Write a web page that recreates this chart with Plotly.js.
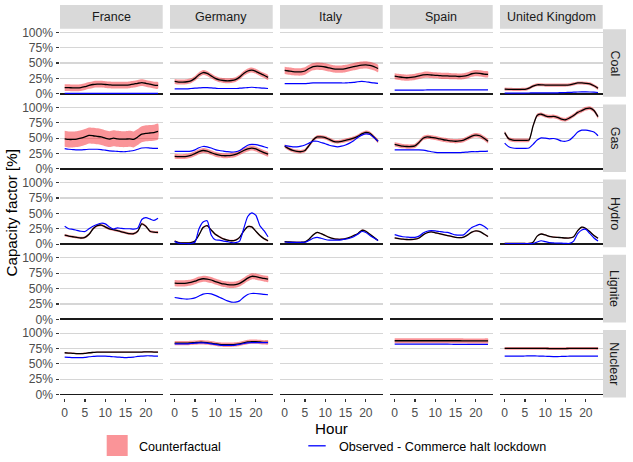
<!DOCTYPE html>
<html>
<head>
<meta charset="utf-8">
<script src="https://cdn.plot.ly/plotly-3.0.1.min.js"></script>
<style>html,body{margin:0;padding:0;background:#fff}</style>
</head>
<body>
<div id="chart" style="width:633px;height:462px"></div>
<script>
// hours of the day and facet labels
const hours = [0,1,2,3,4,5,6,7,8,9,10,11,12,13,14,15,16,17,18,19,20,21,22,23];
const hourTicks = [0,5,10,15,20];
const pctTicks = [0,0.25,0.5,0.75,1];
const pctLabels = ['0%','25%','50%','75%','100%'];
const countries = ['France','Germany','Italy','Spain','United Kingdom'];
const sources = ['Coal','Gas','Hydro','Lignite','Nuclear'];

// Coal
const coalFranceCf = [0.10,0.10,0.095,0.095,0.10,0.115,0.135,0.15,0.155,0.155,0.15,0.145,0.14,0.14,0.14,0.14,0.145,0.155,0.17,0.18,0.17,0.155,0.14,0.135];
const coalFranceObs = [0.005,0.005,0.005,0.005,0.005,0.005,0.005,0.005,0.005,0.005,0.005,0.005,0.005,0.005,0.005,0.005,0.005,0.005,0.005,0.005,0.005,0.005,0.005,0.005];
const coalGermanyCf = [0.20,0.19,0.19,0.195,0.21,0.25,0.31,0.345,0.33,0.29,0.25,0.225,0.215,0.21,0.215,0.23,0.27,0.33,0.37,0.385,0.365,0.33,0.30,0.265];
const coalGermanyObs = [0.08,0.08,0.08,0.08,0.085,0.09,0.095,0.10,0.10,0.095,0.09,0.085,0.085,0.085,0.085,0.085,0.09,0.095,0.10,0.105,0.10,0.095,0.09,0.085];
const coalItalyCf = [0.38,0.37,0.36,0.355,0.355,0.37,0.41,0.44,0.45,0.445,0.435,0.42,0.405,0.40,0.40,0.41,0.425,0.44,0.455,0.465,0.47,0.46,0.44,0.41];
const coalItalyObs = [0.165,0.165,0.165,0.165,0.165,0.165,0.17,0.175,0.175,0.175,0.175,0.175,0.175,0.175,0.175,0.175,0.18,0.185,0.195,0.20,0.195,0.185,0.175,0.17];
const coalSpainCf = [0.285,0.275,0.265,0.26,0.265,0.275,0.29,0.305,0.31,0.305,0.30,0.295,0.29,0.29,0.285,0.285,0.28,0.285,0.30,0.325,0.335,0.33,0.32,0.315];
const coalSpainObs = [0.06,0.06,0.06,0.06,0.06,0.06,0.06,0.06,0.062,0.062,0.062,0.062,0.062,0.062,0.062,0.062,0.062,0.062,0.062,0.062,0.062,0.062,0.062,0.062];
const coalUkCf = [0.075,0.072,0.07,0.07,0.07,0.072,0.09,0.125,0.145,0.145,0.14,0.14,0.14,0.14,0.14,0.14,0.145,0.16,0.175,0.175,0.17,0.16,0.13,0.09];
const coalUkObs = [0.01,0.01,0.01,0.01,0.01,0.01,0.012,0.015,0.015,0.015,0.015,0.015,0.015,0.015,0.018,0.02,0.022,0.025,0.028,0.03,0.03,0.028,0.025,0.02];

// Gas
const gasFranceCf = [0.49,0.48,0.48,0.485,0.50,0.52,0.545,0.54,0.53,0.52,0.50,0.485,0.50,0.49,0.485,0.485,0.49,0.48,0.52,0.565,0.58,0.585,0.59,0.61];
const gasFranceObs = [0.33,0.32,0.315,0.31,0.31,0.315,0.32,0.32,0.32,0.315,0.305,0.295,0.29,0.285,0.28,0.28,0.29,0.30,0.32,0.34,0.345,0.34,0.335,0.335];
const gasGermanyCf = [0.205,0.20,0.20,0.205,0.22,0.25,0.28,0.30,0.29,0.265,0.24,0.225,0.215,0.215,0.22,0.235,0.265,0.30,0.325,0.34,0.325,0.295,0.265,0.24];
const gasGermanyObs = [0.285,0.285,0.285,0.285,0.29,0.31,0.345,0.365,0.36,0.34,0.315,0.30,0.29,0.28,0.275,0.28,0.30,0.345,0.385,0.40,0.395,0.38,0.36,0.34];
const gasItalyCf = [0.37,0.33,0.30,0.285,0.28,0.30,0.38,0.47,0.52,0.52,0.51,0.48,0.45,0.44,0.45,0.465,0.48,0.50,0.53,0.57,0.595,0.58,0.52,0.45];
const gasItalyObs = [0.38,0.37,0.36,0.36,0.37,0.39,0.42,0.45,0.45,0.43,0.41,0.385,0.37,0.36,0.37,0.39,0.42,0.46,0.51,0.55,0.57,0.56,0.51,0.45];
const gasSpainCf = [0.40,0.385,0.37,0.365,0.365,0.375,0.43,0.50,0.52,0.515,0.505,0.49,0.475,0.465,0.455,0.45,0.455,0.47,0.50,0.535,0.55,0.54,0.50,0.45];
const gasSpainObs = [0.31,0.31,0.31,0.31,0.31,0.31,0.31,0.305,0.295,0.28,0.27,0.265,0.265,0.265,0.265,0.265,0.265,0.27,0.275,0.28,0.28,0.285,0.285,0.29];
const gasUkCf = [0.59,0.49,0.47,0.465,0.465,0.465,0.47,0.70,0.87,0.89,0.865,0.85,0.855,0.84,0.81,0.80,0.83,0.87,0.92,0.95,0.98,0.99,0.95,0.85];
const gasUkObs = [0.42,0.36,0.34,0.335,0.335,0.335,0.34,0.40,0.47,0.505,0.50,0.49,0.495,0.48,0.455,0.45,0.47,0.53,0.60,0.63,0.63,0.62,0.60,0.54];

// Hydro
const hydroFranceCf = [0.145,0.13,0.12,0.11,0.10,0.11,0.16,0.25,0.30,0.31,0.28,0.25,0.235,0.22,0.20,0.185,0.17,0.17,0.21,0.33,0.29,0.21,0.195,0.19];
const hydroFranceObs = [0.29,0.25,0.24,0.225,0.21,0.205,0.25,0.29,0.32,0.34,0.33,0.28,0.245,0.265,0.255,0.25,0.25,0.245,0.26,0.40,0.43,0.41,0.385,0.42];
const hydroGermanyCf = [0.05,0.025,0.02,0.02,0.025,0.05,0.15,0.27,0.30,0.23,0.16,0.12,0.085,0.065,0.055,0.065,0.11,0.21,0.285,0.28,0.21,0.14,0.09,0.055];
const hydroGermanyObs = [0.04,0.015,0.01,0.01,0.01,0.03,0.25,0.36,0.38,0.15,0.07,0.065,0.05,0.04,0.025,0.025,0.05,0.25,0.45,0.51,0.47,0.30,0.22,0.12];
const hydroItalyCf = [0.04,0.035,0.032,0.03,0.03,0.035,0.08,0.15,0.19,0.17,0.14,0.11,0.09,0.08,0.08,0.09,0.11,0.14,0.17,0.225,0.21,0.16,0.11,0.06];
const hydroItalyObs = [0.035,0.03,0.03,0.03,0.03,0.03,0.06,0.095,0.11,0.095,0.075,0.065,0.065,0.065,0.07,0.08,0.095,0.12,0.16,0.205,0.19,0.14,0.10,0.06];
const hydroSpainCf = [0.10,0.09,0.08,0.075,0.075,0.08,0.10,0.15,0.185,0.2,0.185,0.17,0.155,0.14,0.125,0.11,0.105,0.115,0.15,0.195,0.215,0.205,0.165,0.125];
const hydroSpainObs = [0.155,0.135,0.12,0.115,0.11,0.11,0.13,0.18,0.21,0.22,0.215,0.205,0.195,0.19,0.17,0.15,0.145,0.15,0.21,0.27,0.30,0.32,0.29,0.24];
const hydroUkCf = [0.01,0.01,0.01,0.01,0.01,0.01,0.01,0.03,0.13,0.165,0.15,0.125,0.115,0.11,0.105,0.10,0.10,0.12,0.22,0.275,0.255,0.20,0.14,0.095];
const hydroUkObs = [0.01,0.01,0.01,0.01,0.01,0.01,0.01,0.01,0.035,0.055,0.04,0.025,0.02,0.015,0.015,0.012,0.012,0.05,0.17,0.23,0.24,0.17,0.10,0.05];

// Lignite (Germany only)
const ligniteGermanyCf = [0.59,0.585,0.585,0.59,0.60,0.62,0.645,0.66,0.655,0.64,0.615,0.595,0.575,0.565,0.56,0.565,0.585,0.625,0.67,0.70,0.695,0.68,0.665,0.655];
const ligniteGermanyObs = [0.355,0.345,0.335,0.33,0.335,0.35,0.38,0.41,0.42,0.415,0.39,0.36,0.33,0.30,0.28,0.28,0.30,0.36,0.405,0.42,0.42,0.415,0.405,0.40];

// Nuclear (no Italy)
const nuclearFranceCf = [0.68,0.675,0.67,0.665,0.665,0.67,0.68,0.685,0.69,0.69,0.69,0.69,0.69,0.69,0.69,0.69,0.69,0.69,0.69,0.69,0.695,0.695,0.69,0.69];
const nuclearFranceObs = [0.61,0.605,0.60,0.60,0.60,0.605,0.615,0.62,0.625,0.625,0.625,0.62,0.615,0.61,0.605,0.60,0.605,0.61,0.62,0.625,0.63,0.63,0.625,0.625];
const nuclearGermanyCf = [0.835,0.835,0.835,0.835,0.84,0.845,0.85,0.85,0.845,0.835,0.825,0.815,0.81,0.81,0.81,0.815,0.825,0.84,0.855,0.86,0.86,0.855,0.85,0.85];
const nuclearGermanyObs = [0.825,0.825,0.825,0.825,0.83,0.835,0.84,0.84,0.835,0.825,0.815,0.805,0.80,0.80,0.80,0.805,0.815,0.83,0.84,0.845,0.845,0.845,0.845,0.845];
const nuclearSpainCf = [0.875,0.875,0.875,0.875,0.875,0.875,0.875,0.875,0.875,0.875,0.875,0.875,0.875,0.875,0.875,0.875,0.875,0.873,0.872,0.872,0.872,0.872,0.872,0.872];
const nuclearSpainObs = [0.82,0.82,0.82,0.82,0.82,0.82,0.82,0.82,0.82,0.82,0.82,0.82,0.82,0.82,0.818,0.816,0.815,0.815,0.815,0.815,0.815,0.815,0.815,0.815];
const nuclearUkCf = [0.75,0.75,0.75,0.75,0.75,0.75,0.752,0.752,0.752,0.75,0.75,0.748,0.746,0.746,0.746,0.748,0.75,0.75,0.75,0.75,0.75,0.75,0.75,0.75];
const nuclearUkObs = [0.625,0.625,0.625,0.625,0.625,0.627,0.628,0.628,0.627,0.625,0.623,0.62,0.618,0.618,0.62,0.622,0.624,0.625,0.625,0.625,0.625,0.625,0.625,0.625];

// half width of the counterfactual ribbon, per source, in country order
const coalBand = [0.055,0.04,0.06,0.05,0.025];
const gasBand = [0.13,0.04,0.03,0.035,0.03];
const hydroBand = [0.02,0.015,0.012,0.012,0.012];
const ligniteBand = [0,0.05,0,0,0];
const nuclearBand = [0.012,0.035,0,0.04,0.022];

const cf = {
    Coal: [coalFranceCf, coalGermanyCf, coalItalyCf, coalSpainCf, coalUkCf],
    Gas: [gasFranceCf, gasGermanyCf, gasItalyCf, gasSpainCf, gasUkCf],
    Hydro: [hydroFranceCf, hydroGermanyCf, hydroItalyCf, hydroSpainCf, hydroUkCf],
    Lignite: [null, ligniteGermanyCf, null, null, null],
    Nuclear: [nuclearFranceCf, nuclearGermanyCf, null, nuclearSpainCf, nuclearUkCf]
};
const obs = {
    Coal: [coalFranceObs, coalGermanyObs, coalItalyObs, coalSpainObs, coalUkObs],
    Gas: [gasFranceObs, gasGermanyObs, gasItalyObs, gasSpainObs, gasUkObs],
    Hydro: [hydroFranceObs, hydroGermanyObs, hydroItalyObs, hydroSpainObs, hydroUkObs],
    Lignite: [null, ligniteGermanyObs, null, null, null],
    Nuclear: [nuclearFranceObs, nuclearGermanyObs, null, nuclearSpainObs, nuclearUkObs]
};
const bands = { Coal: coalBand, Gas: gasBand, Hydro: hydroBand, Lignite: ligniteBand, Nuclear: nuclearBand };

// page geometry, in pixels
const W = 633, H = 462;
const colLeft = [60, 170, 280, 390, 500];
const panelW = 102.7;
const rowTop = [29.2, 104.4, 179.6, 254.8, 330];
const panelH = 67.6;
const px = v => v / W;
const py = v => 1 - v / H;

const font = 'Liberation Sans, Arial, sans-serif';
const tickSize = 12.1, stripSize = 12.5, legendSize = 12.6, titleSize = 15.2;
const ribbonFill = 'rgba(242,0,10,0.42)';

const traces = [];
const layout = {
    width: W, height: H,
    margin: {l: 0, r: 0, t: 0, b: 0},
    paper_bgcolor: 'white', plot_bgcolor: 'white',
    showlegend: false,
    font: {family: font, size: tickSize, color: '#4D4D4D'},
    shapes: [], annotations: []
};

for (let r = 0; r < sources.length; r++) {
    for (let c = 0; c < countries.length; c++) {
        const k = r * 5 + c + 1;
        const sfx = k === 1 ? '' : String(k);
        const top = rowTop[r], left = colLeft[c];
        layout['xaxis' + sfx] = {
            domain: [px(left), px(left + panelW)],
            anchor: 'y' + sfx,
            range: [-1.15, 24.15],
            showgrid: false, zeroline: false, showline: false,
            tickvals: hourTicks,
            ticks: r === 4 ? 'outside' : '',
            ticklen: 3.5, tickwidth: 1.1, tickcolor: '#333333',
            showticklabels: r === 4,
            tickfont: {family: font, size: tickSize, color: '#4D4D4D'},
            fixedrange: true
        };
        layout['yaxis' + sfx] = {
            domain: [py(top + panelH), py(top)],
            anchor: 'x' + sfx,
            range: [-0.05, 1.05],
            tickvals: pctTicks, ticktext: pctLabels,
            showgrid: true, gridcolor: '#D6D6D6', gridwidth: 1.1,
            zeroline: true, zerolinecolor: '#1A1A1A', zerolinewidth: 1.7,
            showline: false,
            ticks: c === 0 ? 'outside' : '',
            ticklen: 3.5, tickwidth: 1.1, tickcolor: '#333333',
            showticklabels: c === 0,
            tickfont: {family: font, size: tickSize, color: '#4D4D4D'},
            fixedrange: true
        };

        const src = sources[r];
        const mean = cf[src][c];
        const seen = obs[src][c];
        const xa = 'x' + sfx, ya = 'y' + sfx;
        if (!mean) {
            traces.push({type: 'scatter', mode: 'lines', x: [], y: [], xaxis: xa, yaxis: ya});
            continue;
        }
        const w = bands[src][c];
        const upper = mean.map(v => v + w);
        const lower = mean.map(v => v - w);
        traces.push({
            type: 'scatter', mode: 'lines',
            x: hours.concat(hours.slice().reverse()),
            y: upper.concat(lower.slice().reverse()),
            fill: 'toself', fillcolor: ribbonFill,
            line: {width: 0, shape: 'spline', smoothing: 0.6},
            xaxis: xa, yaxis: ya, hoverinfo: 'skip'
        });
        traces.push({
            type: 'scatter', mode: 'lines', x: hours, y: mean,
            line: {color: '#000000', width: 1.3, shape: 'spline', smoothing: 0.6},
            xaxis: xa, yaxis: ya
        });
        traces.push({
            type: 'scatter', mode: 'lines', x: hours, y: seen,
            line: {color: '#0000FF', width: 1.2, shape: 'spline', smoothing: 0.6},
            xaxis: xa, yaxis: ya
        });
    }
}

// facet strips
const stripGrey = '#D9D9D9';
countries.forEach((name, c) => {
    layout.shapes.push({type: 'rect', xref: 'paper', yref: 'paper', layer: 'below',
        x0: px(colLeft[c]), x1: px(colLeft[c] + panelW), y0: py(28.8), y1: py(5),
        fillcolor: stripGrey, line: {width: 0}});
    layout.annotations.push({xref: 'paper', yref: 'paper', showarrow: false,
        x: px(colLeft[c] + panelW / 2), y: py(17), xanchor: 'center', yanchor: 'middle',
        text: name, font: {family: font, size: stripSize, color: '#1A1A1A'}});
});
sources.forEach((name, r) => {
    layout.shapes.push({type: 'rect', xref: 'paper', yref: 'paper', layer: 'below',
        x0: px(603), x1: px(626), y0: py(rowTop[r] + panelH), y1: py(rowTop[r]),
        fillcolor: stripGrey, line: {width: 0}});
    layout.annotations.push({xref: 'paper', yref: 'paper', showarrow: false,
        x: px(614.5), y: py(rowTop[r] + panelH / 2), xanchor: 'center', yanchor: 'middle',
        textangle: 90, text: name, font: {family: font, size: stripSize, color: '#1A1A1A'}});
});

// axis titles
layout.annotations.push({xref: 'paper', yref: 'paper', showarrow: false,
    x: px(331.5), y: py(428.5), xanchor: 'center', yanchor: 'middle',
    text: 'Hour', font: {family: font, size: titleSize, color: '#000000'}});
layout.annotations.push({xref: 'paper', yref: 'paper', showarrow: false,
    x: px(10.5), y: py(213), xanchor: 'center', yanchor: 'middle', textangle: -90,
    text: 'Capacity factor [%]', font: {family: font, size: titleSize, color: '#000000'}});

// legend keys
layout.shapes.push({type: 'rect', xref: 'paper', yref: 'paper',
    x0: px(106.7), x1: px(127.7), y0: py(456), y1: py(435),
    fillcolor: ribbonFill, line: {width: 0}});
layout.shapes.push({type: 'line', xref: 'paper', yref: 'paper',
    x0: px(308.3), x1: px(325.7), y0: py(445.8), y1: py(445.8),
    line: {color: '#0000FF', width: 1.3}});
layout.annotations.push({xref: 'paper', yref: 'paper', showarrow: false,
    x: px(136.7), y: py(446.5), xanchor: 'left', yanchor: 'middle',
    text: 'Counterfactual', font: {family: font, size: legendSize, color: '#000000'}});
layout.annotations.push({xref: 'paper', yref: 'paper', showarrow: false,
    x: px(336.7), y: py(446.5), xanchor: 'left', yanchor: 'middle',
    text: 'Observed - Commerce halt lockdown', font: {family: font, size: legendSize, color: '#000000'}});

Plotly.newPlot(document.getElementById('chart'), traces, layout, {displayModeBar: false, staticPlot: true});
</script>
</body>
</html>
